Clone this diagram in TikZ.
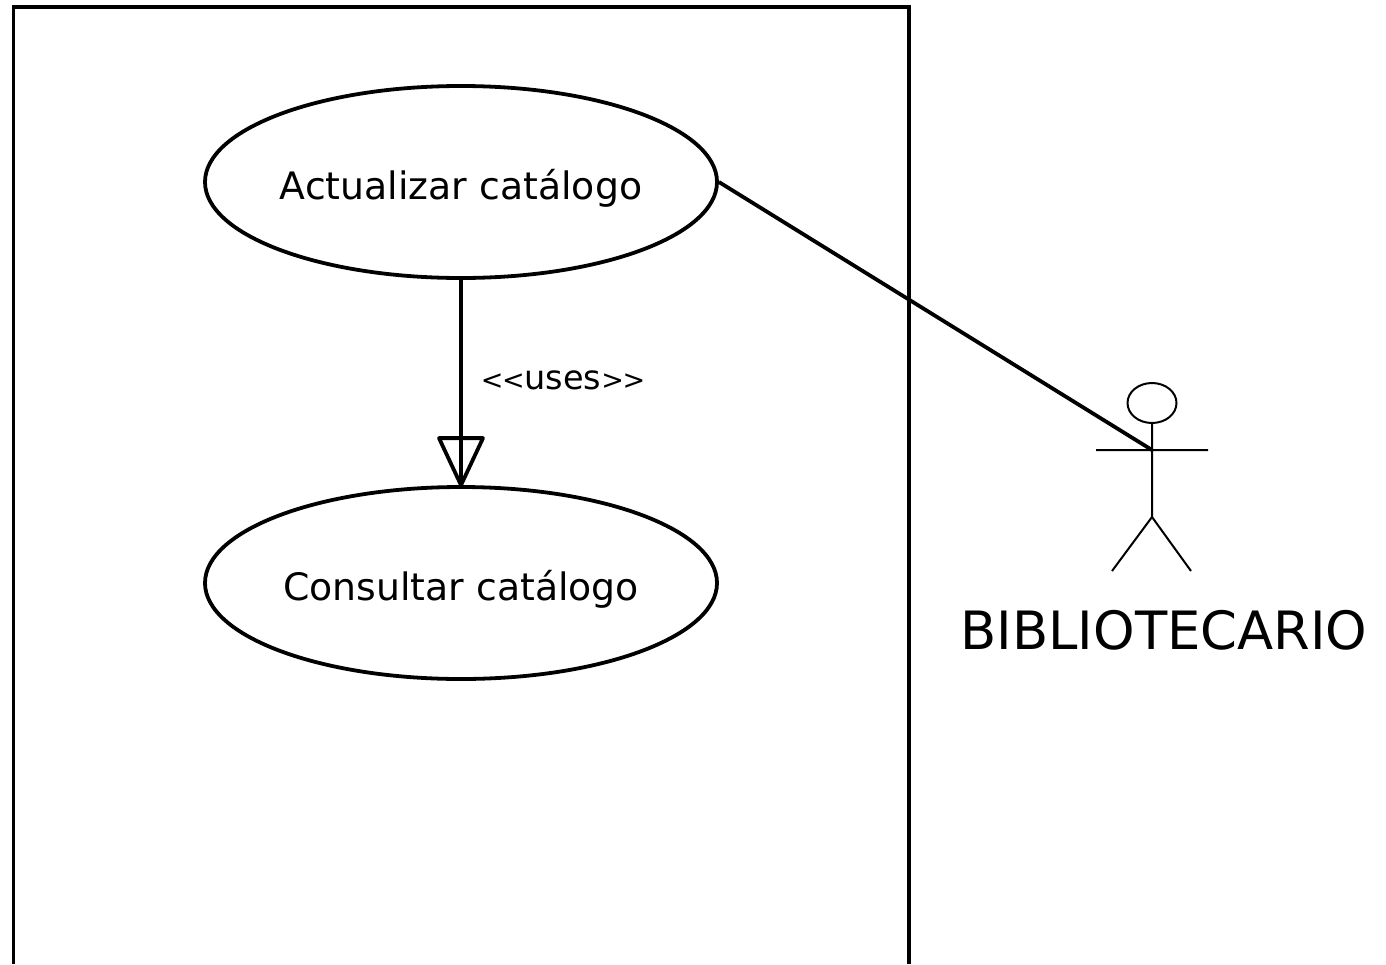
\documentclass[tikz,border=0pt]{standalone}
\usepackage{fontspec}
\setmainfont{DejaVu Sans}
\usetikzlibrary{shapes.geometric}
\newcommand{\uctext}[1]{\raisebox{-17pt}[0pt][0pt]{\makebox[0pt]{#1}}}
\newcommand{\brk}[1]{{\fontsize{27}{30}\selectfont #1\kern-1.5pt #1}}
\tikzset{
	usecase/.style={draw, ellipse, line width=3.8pt, minimum width=512pt, minimum height=192pt, inner sep=0pt, font=\fontsize{37.8}{44}\selectfont},
	actorline/.style={line width=2pt},
	assoc/.style={line width=3.8pt}
}
\begin{document}
\begin{tikzpicture}[x=1pt, y=-1pt, line join=miter, line cap=butt]
	\useasboundingbox (0,0) rectangle (1386,964);
	% system box
	\draw[assoc] (13.5,964)--(13.5,7)--(909,7)--(909,964);
	\node[usecase] (actualizar) at (461,182) {\uctext{Actualizar catálogo}};
	\node[usecase] (consultar) at (461,583) {\uctext{Consultar catálogo}};
	\draw[assoc] (actualizar)--(consultar);
	\node[inner sep=0pt, anchor=base, font=\fontsize{33.5}{38}\selectfont] (uses) at (563,389) {\brk{<}uses\brk{>}};
	\draw[assoc, line join=round] (consultar.north)--++(-22,-47)--++(44,0)--cycle;
	% actor
	\node[draw, ellipse, actorline, minimum width=49pt, minimum height=40pt, inner sep=0pt] (head) at (1152,403) {};
	\coordinate (neck) at (1152,450);
	\coordinate (hip) at (1152,517);
	\coordinate (handL) at (1096,450);
	\coordinate (handR) at (1208,450);
	\coordinate (footL) at (1112,571);
	\coordinate (footR) at (1191,571);
	\draw[actorline] (head.south)--(hip) (handL)--(handR) (footL)--(hip)--(footR);
	\node[font=\fontsize{52.8}{60}\selectfont, inner sep=0pt] (bibliotecario) at (1164,630) {BIBLIOTECARIO};
	\draw[assoc] (actualizar.east)--(neck);
\end{tikzpicture}
\end{document}
